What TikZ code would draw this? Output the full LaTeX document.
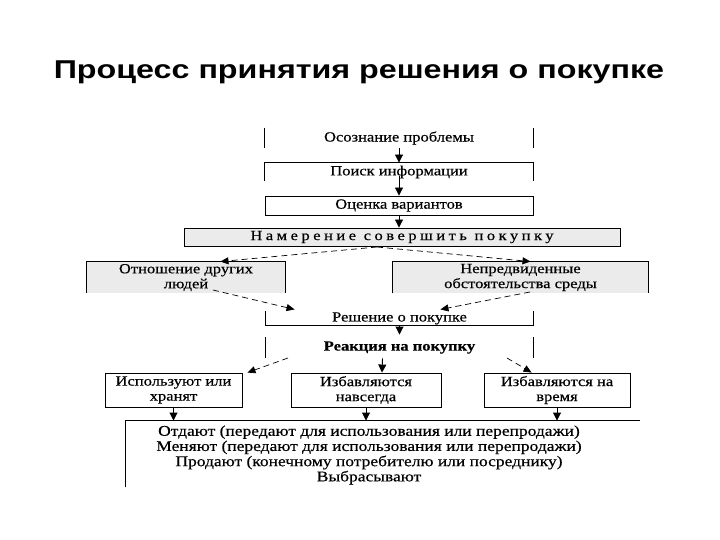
\documentclass[tikz,border=0pt]{standalone}
\usepackage{fontspec}
\setmainfont{Liberation Serif}
\newfontfamily\titlefont[FakeStretch=1.25]{Liberation Sans}
\newfontfamily\bodyfont[FakeStretch=1.18,FakeBold=0.4]{Liberation Serif}
\newfontfamily\spacedfont[FakeStretch=1.18,FakeBold=0.4,LetterSpace=25]{Liberation Serif}
\usetikzlibrary{arrows.meta,calc}
\definecolor{boxgray}{HTML}{EBEBEB}
\begin{document}
\begin{tikzpicture}[x=1pt,y=-1pt,line width=0.9pt,
  bx/.style={inner sep=0pt,align=center,font=\bodyfont\fontsize{14}{15}\selectfont},
  gbox/.style={bx,fill=boxgray},
  full/.style={bx,draw},
  arr/.style={-{Triangle[width=8pt,length=8pt]}},
  darr/.style={line width=0.7pt,dash pattern=on 6pt off 4pt,-{Triangle[width=7pt,length=8pt]}}]
\useasboundingbox (0,0) rectangle (720,540);
\fill[white] (0,0) rectangle (720,540);

\node[font=\titlefont\bfseries\fontsize{25.8}{28}\selectfont] (title) at (359,72) {Процесс принятия решения о покупке};

% boxes
\node[bx,minimum width=268,minimum height=20] (b1) at (399,138) {Осознание проблемы};
\node[bx,minimum width=268,minimum height=18] (b2) at (399,172) {Поиск информации};
\node[full,minimum width=268,minimum height=19] (b3) at (399,205.5) {Оценка вариантов};
\node[full,fill=boxgray,minimum width=436,minimum height=18,font=\spacedfont\fontsize{14}{15}\selectfont] (b4) at (402,237) {Намерение совершить покупку};
\node[gbox,minimum width=198,minimum height=31] (b5) at (186,277.5) {Отношение других\\людей};
\node[gbox,minimum width=255,minimum height=31] (b6) at (520.5,277.5) {Непредвиденные\\обстоятельства среды};
\node[bx,minimum width=267,minimum height=29] (b7) at (399.5,310.5) {};
\node[bx,anchor=south] (t7) at ($(b7.south)+(0,-0.5)$) {Решение о покупке};
\node[bx,minimum width=267,minimum height=25,font=\bodyfont\bfseries\fontsize{14}{15}\selectfont] (b8) at (399.5,347.5) {Реакция на покупку};
\node[full,minimum width=137,minimum height=34] (b9) at (173.5,390) {Используют или\\хранят};
\node[full,minimum width=150,minimum height=34] (b10) at (366,390) {Избавляются\\навсегда};
\node[full,minimum width=146,minimum height=34] (b11) at (557,390) {Избавляются на\\время};
\node[bx,minimum width=514,minimum height=66] (b12) at (383,454) {};
\node[bx,font=\bodyfont\fontsize{14.8}{15.2}\selectfont] (t12) at (369,455) {Отдают (передают для использования или перепродажи)\\Меняют (передают для использования или перепродажи)\\Продают (конечному потребителю или посреднику)\\Выбрасывают};

% partial frames
\draw (b1.north west) -- (b1.south west) (b1.north east) -- (b1.south east);
\draw (b2.south west) -- (b2.north west) -- (b2.north east) -- (b2.south east);
\draw (b5.south west) -- (b5.north west) -- (b5.north east) -- (b5.south east);
\draw (b6.south west) -- (b6.north west) -- (b6.north east) -- (b6.south east);
\draw ($(b7.south west)+(0,-14)$) -- (b7.south west) -- (b7.south east) -- ($(b7.south east)+(0,-14)$);
\draw ($(b8.south west)+(0,-2)$) -- ($(b8.north west)+(0,2)$) ($(b8.south east)+(0,-2)$) -- ($(b8.north east)+(0,2)$);
\draw (b12.south west) -- (b12.north west) -- (b12.north east);

% connectors
\draw[arr] (b1.south) -- (b2.north);
\draw[arr] ($(b2.south)+(0,-5)$) -- (b3.north);
\draw[arr] (b3.south) -- (b4.north -| b3.south);
\coordinate (d4) at (377,247);
\draw[darr] (d4) -- ($(b5.north east)+(-65,0)$);
\draw[darr] (d4) -- ($(b6.north)+(10,0)$);
\coordinate (s5) at (213,290);
\coordinate (s6) at (530,292);
\draw[darr] (s5) -- ($(b7.south west)+(29,-16)$);
\draw[darr] (s6) -- ($(b7.south east)+(-93,-16)$);
\draw[arr] (b7.south) -- (b8.north);
\coordinate (s8l) at (288,358);
\coordinate (s8r) at (507,358);
\draw[darr] (s8l) -- ($(b9.north east)+(5,0)$);
\draw[darr] (s8r) -- ($(b11.north west)+(48,0)$);
\draw[arr] ($(b8.south)+(-17,-2)$) -- ($(b10.north)+(16,0)$);
\draw[arr] (b9.south) -- (b9.south |- b12.north);
\draw[arr] (b10.south) -- (b10.south |- b12.north);
\draw[arr] (b11.south) -- (b11.south |- b12.north);
\end{tikzpicture}
\end{document}
